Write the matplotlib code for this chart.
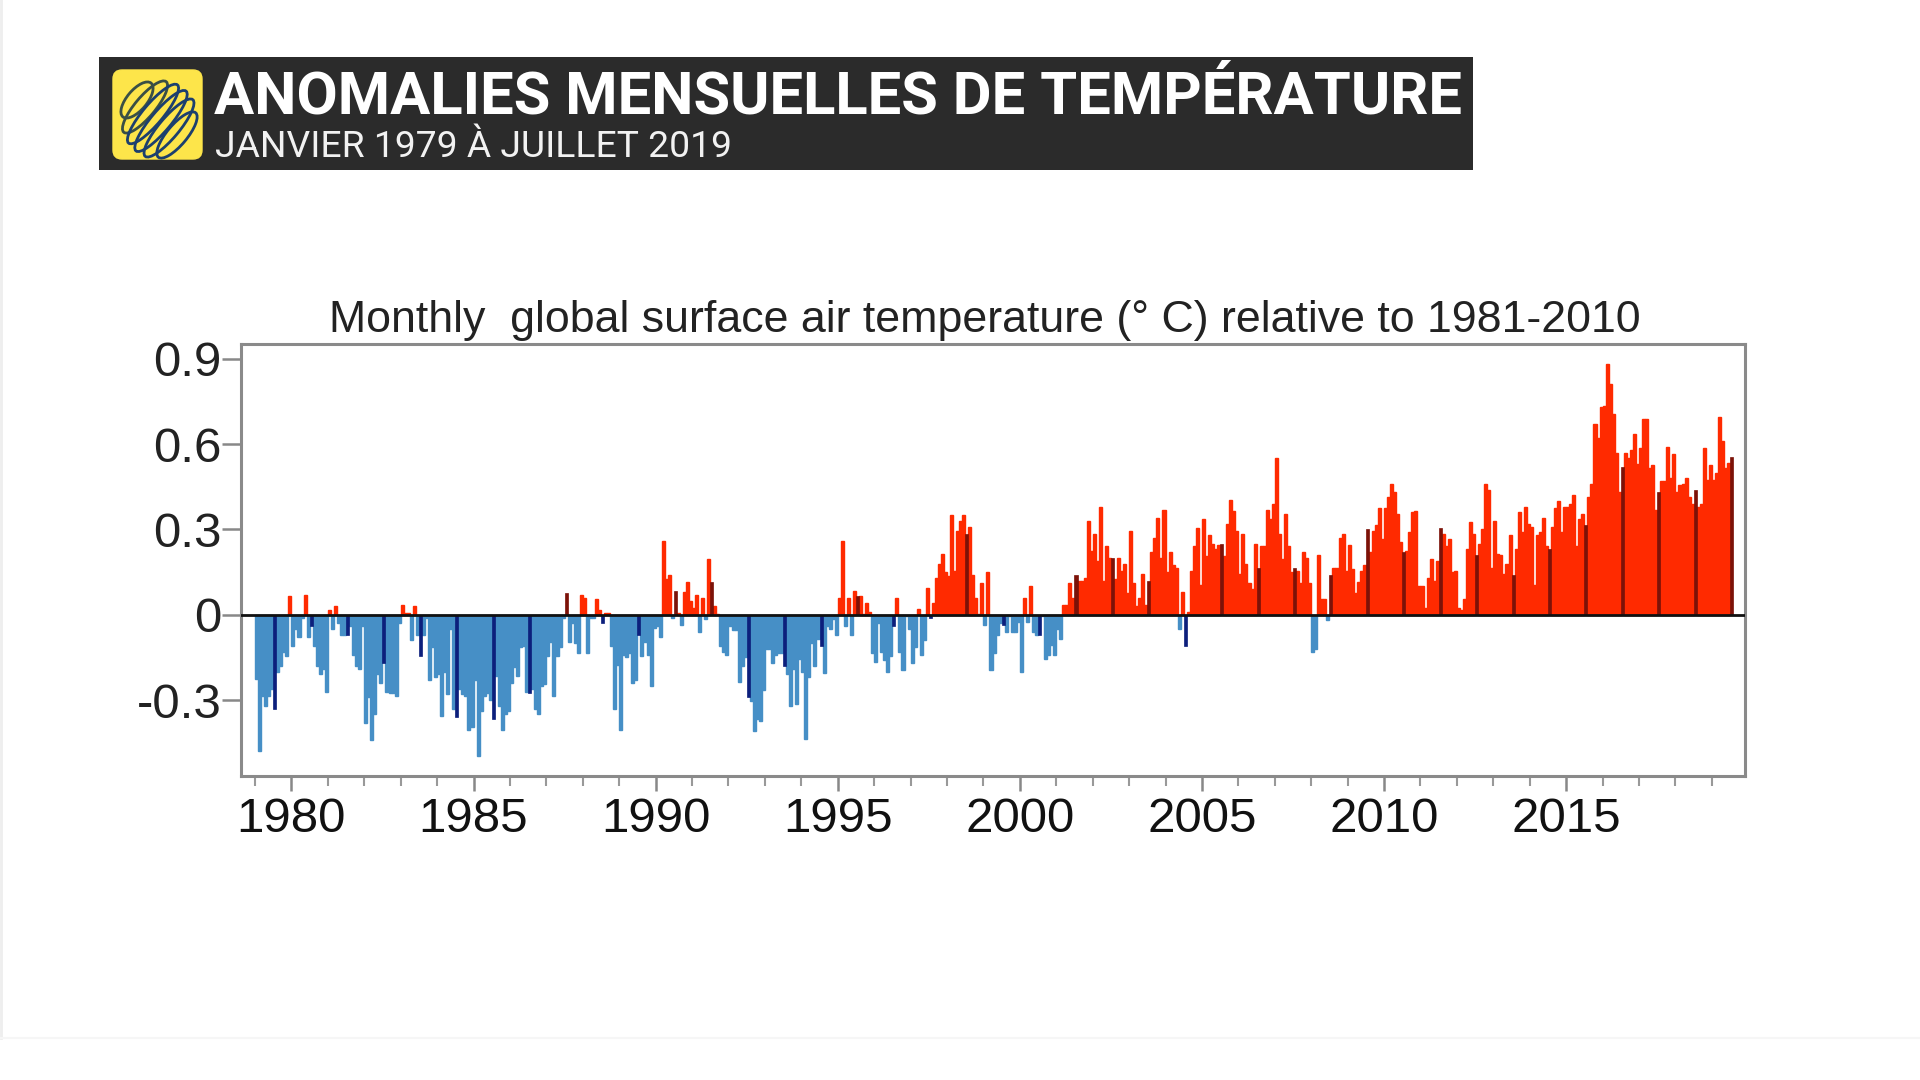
import numpy as np
import matplotlib as mpl
mpl.use('Agg')
from matplotlib import pyplot as plt
from matplotlib.patches import Rectangle, FancyBboxPatch, Ellipse

# monthly anomalies, one list per period
y1979_84 = [
    -0.226, -0.48, -0.285, -0.32, -0.285, -0.26, -0.33, -0.2, -0.18, -0.13, -0.145, 0.067,
    -0.11, -0.05, -0.08, -0.01, 0.07, -0.08, -0.04, -0.11, -0.18, -0.21, -0.19, -0.27,
    0.015, -0.05, 0.03, -0.03, -0.07, -0.07, -0.07, -0.04, -0.14, -0.18, -0.19, -0.04,
    -0.38, -0.29, -0.44, -0.35, -0.21, -0.24, -0.17, -0.27, -0.275, -0.275, -0.285, -0.03,
    0.035, 0.005, 0.005, -0.09, 0.03, -0.07, -0.145, -0.07, -0.01, -0.23, -0.115, -0.22,
    -0.21, -0.355, -0.2, -0.28, -0.05, -0.33, -0.36, -0.26, -0.28, -0.285, -0.405, -0.395]
y1985_90 = [
    -0.23, -0.495, -0.34, -0.285, -0.275, -0.3, -0.365, -0.215, -0.32, -0.405, -0.35, -0.34,
    -0.24, -0.185, -0.215, -0.115, -0.11, -0.27, -0.275, -0.26, -0.33, -0.35, -0.25, -0.245,
    -0.145, -0.095, -0.285, -0.145, -0.115, -0.01, 0.075, -0.095, -0.03, -0.1, -0.135, 0.07,
    0.06, -0.135, -0.01, -0.01, 0.055, 0.015, -0.03, 0.005, 0.005, -0.11, -0.33, -0.175,
    -0.405, -0.14, -0.15, -0.135, -0.24, -0.23, -0.07, -0.145, -0.095, -0.14, -0.25, -0.045,
    -0.04, -0.08, 0.26, 0.125, 0.14, -0.01, 0.085, 0.005, -0.035, 0.08, 0.115, 0.05]
y1991_96 = [
    0.025, 0.07, -0.06, 0.06, -0.015, 0.195, 0.115, 0.03, 0.002, -0.11, -0.13, -0.14,
    -0.04, -0.055, -0.055, -0.235, -0.18, -0.15, -0.29, -0.305, -0.41, -0.365, -0.375, -0.265,
    -0.12, -0.12, -0.17, -0.14, -0.135, -0.135, -0.18, -0.21, -0.32, -0.19, -0.315, -0.155,
    -0.2, -0.436, -0.22, -0.1, -0.18, -0.085, -0.11, -0.205, -0.04, -0.05, -0.015, -0.07,
    0.06, 0.26, -0.04, 0.06, -0.07, 0.085, 0.065, 0.065, 0.002, 0.04, 0.01, -0.135,
    -0.165, -0.03, -0.13, -0.16, -0.2, -0.145, -0.04, 0.06, -0.13, -0.195, -0.005, -0.05]
y1997_02 = [
    -0.17, -0.115, 0.02, -0.14, -0.09, 0.095, -0.01, 0.04, 0.13, 0.18, 0.215, 0.15,
    0.135, 0.35, 0.155, 0.295, 0.33, 0.35, 0.285, 0.31, 0.14, 0.06, 0.002, 0.11,
    -0.035, 0.15, -0.195, -0.135, -0.07, -0.03, -0.035, -0.06, -0.005, -0.06, -0.06, -0.025,
    -0.2, 0.06, -0.025, 0.1, -0.06, -0.07, -0.07, -0.005, -0.155, -0.14, -0.105, -0.14,
    -0.05, -0.085, 0.035, 0.035, 0.11, 0.06, 0.14, 0.12, 0.12, 0.13, 0.33, 0.225,
    0.285, 0.19, 0.38, 0.12, 0.24, 0.2, 0.2, 0.125, 0.2, 0.155, 0.18, 0.075]
y2003_08 = [
    0.295, 0.11, 0.03, 0.06, 0.145, 0.035, 0.12, 0.22, 0.27, 0.34, 0.2, 0.37,
    0.15, 0.22, 0.175, 0.165, -0.05, 0.08, -0.11, 0.01, 0.155, 0.24, 0.305, 0.105,
    0.335, 0.205, 0.28, 0.25, 0.23, 0.245, 0.25, 0.205, 0.32, 0.405, 0.365, 0.295,
    0.145, 0.285, 0.18, 0.11, 0.09, 0.25, 0.165, 0.24, 0.24, 0.37, 0.335, 0.39,
    0.55, 0.285, 0.195, 0.355, 0.24, 0.15, 0.165, 0.155, 0.11, 0.22, 0.2, 0.11,
    -0.13, -0.12, 0.21, 0.055, 0.055, -0.02, 0.14, 0.165, 0.165, 0.27, 0.285, 0.155]
y2009_14 = [
    0.245, 0.16, 0.075, 0.115, 0.155, 0.175, 0.3, 0.22, 0.295, 0.315, 0.375, 0.265,
    0.375, 0.415, 0.46, 0.43, 0.355, 0.255, 0.22, 0.225, 0.29, 0.36, 0.365, 0.1,
    0.1, 0.025, 0.13, 0.195, 0.12, 0.19, 0.305, 0.285, 0.24, 0.265, 0.15, 0.155,
    0.025, 0.015, 0.055, 0.23, 0.325, 0.285, 0.21, 0.25, 0.3, 0.46, 0.44, 0.165,
    0.33, 0.215, 0.21, 0.145, 0.18, 0.28, 0.14, 0.23, 0.36, 0.29, 0.38, 0.32,
    0.31, 0.105, 0.28, 0.29, 0.34, 0.24, 0.23, 0.31, 0.375, 0.40, 0.29, 0.38]
y2015_19 = [
    0.38, 0.39, 0.42, 0.24, 0.335, 0.355, 0.315, 0.415, 0.46, 0.67, 0.62, 0.73,
    0.735, 0.88, 0.81, 0.705, 0.57, 0.43, 0.52, 0.57, 0.55, 0.58, 0.635, 0.53,
    0.585, 0.69, 0.69, 0.515, 0.525, 0.37, 0.43, 0.47, 0.47, 0.59, 0.48, 0.565,
    0.43, 0.455, 0.46, 0.48, 0.415, 0.39, 0.44, 0.38, 0.39, 0.585, 0.475, 0.525,
    0.475, 0.5, 0.695, 0.61, 0.515, 0.535, 0.555]

y_ticks = [-0.3, 0, 0.3, 0.6, 0.9]
y_labels = ['-0.3', '0', '0.3', '0.6', '0.9']
x_ticks = [1980, 1985, 1990, 1995, 2000, 2005, 2010, 2015]
title = 'Monthly  global surface air temperature (° C) relative to 1981-2010'
head1 = 'ANOMALIES MENSUELLES DE TEMPÉRATURE'
head2 = 'JANVIER 1979 À JUILLET 2019'

plt.rcParams['font.family'] = ['Liberation Sans', 'DejaVu Sans']

W, H = 1920, 1080
fig = plt.figure(figsize=(W / 100, H / 100), dpi=100, facecolor='white')

# overlay in pixel coords for the banner
bg = fig.add_axes([0, 0, 1, 1])
bg.set_xlim(0, W)
bg.set_ylim(H, 0)
bg.axis('off')
bg.plot([1, 1], [0, 1038], color='#eeeeee', lw=2)
bg.plot([0, W], [1038, 1038], color='#f6f6f6', lw=1.5)
bg.add_patch(Rectangle((99, 57), 1374, 113, fc='#2b2b2b', ec='none'))
bg.add_patch(FancyBboxPatch((113, 70), 89, 89, boxstyle='round,pad=0,rounding_size=9',
                            fc='#fde54a', ec='#fde54a', lw=1))
# logo loops
loop_len = [44, 66, 76, 78, 74, 58]
for i, ln in enumerate(loop_len):
    bg.add_patch(Ellipse((137 + i * 8, 100 + i * 7), ln, 20, angle=-50, fc='none',
                         ec='#1c3f6e' if i > 1 else '#3a4f45', lw=2))
bg.text(214, 113, head1, color='white', fontsize=43, fontweight='bold', family='Roboto',
        ha='left', va='baseline')
bg.text(215, 157, head2, color='#f2f2f2', fontsize=26.8, family='Roboto', ha='left', va='baseline')
bg.text(985, 332, title, color='#222222', fontsize=32.2, ha='center', va='baseline')

# chart
left, right, top, bottom = 241, 1745, 344, 776
ax = fig.add_axes([left / W, 1 - bottom / H, (right - left) / W, (bottom - top) / H])
ax.patch.set_alpha(0)

values = np.array(y1979_84 + y1985_90 + y1991_96 + y1997_02 + y2003_08 + y2009_14 + y2015_19)
months = np.arange(len(values))
x = 1979 + months / 12 + 1 / 24
july = months % 12 == 6

colors = np.where(values >= 0, '#ff2a00', '#468fc6')
ax.bar(x[~july], values[~july], width=1 / 12, color=colors[~july], edgecolor=colors[~july], linewidth=1.0)
dark = np.where(values[july] >= 0, '#7c1208', '#0c1f7c')
ax.bar(x[july], values[july], width=1 / 12, color=dark, edgecolor=dark, linewidth=0.5)
ax.axhline(0, color='#111111', lw=2, zorder=3)

ax.set_xlim(1978.616, 2019.91)
ax.set_ylim(-0.567, 0.952)
ax.set_yticks(y_ticks)
ax.set_yticklabels(y_labels)
ax.set_xticks(x_ticks)
ax.set_xticks(np.arange(1979, 2020), minor=True)
ax.tick_params(axis='y', length=14, width=1.8, color='#888888', labelsize=35.5, pad=0, labelcolor='#222222')
ax.tick_params(axis='x', which='major', length=11, width=1.8, color='#888888', labelsize=35.5, pad=4,
               labelcolor='#111111')
ax.tick_params(axis='x', which='minor', length=7, width=1.5, color='#999999')
for s in ax.spines.values():
    s.set_color('#8a8a8a')
    s.set_linewidth(2.2)

fig.savefig('out.png', dpi=100, facecolor='white')
